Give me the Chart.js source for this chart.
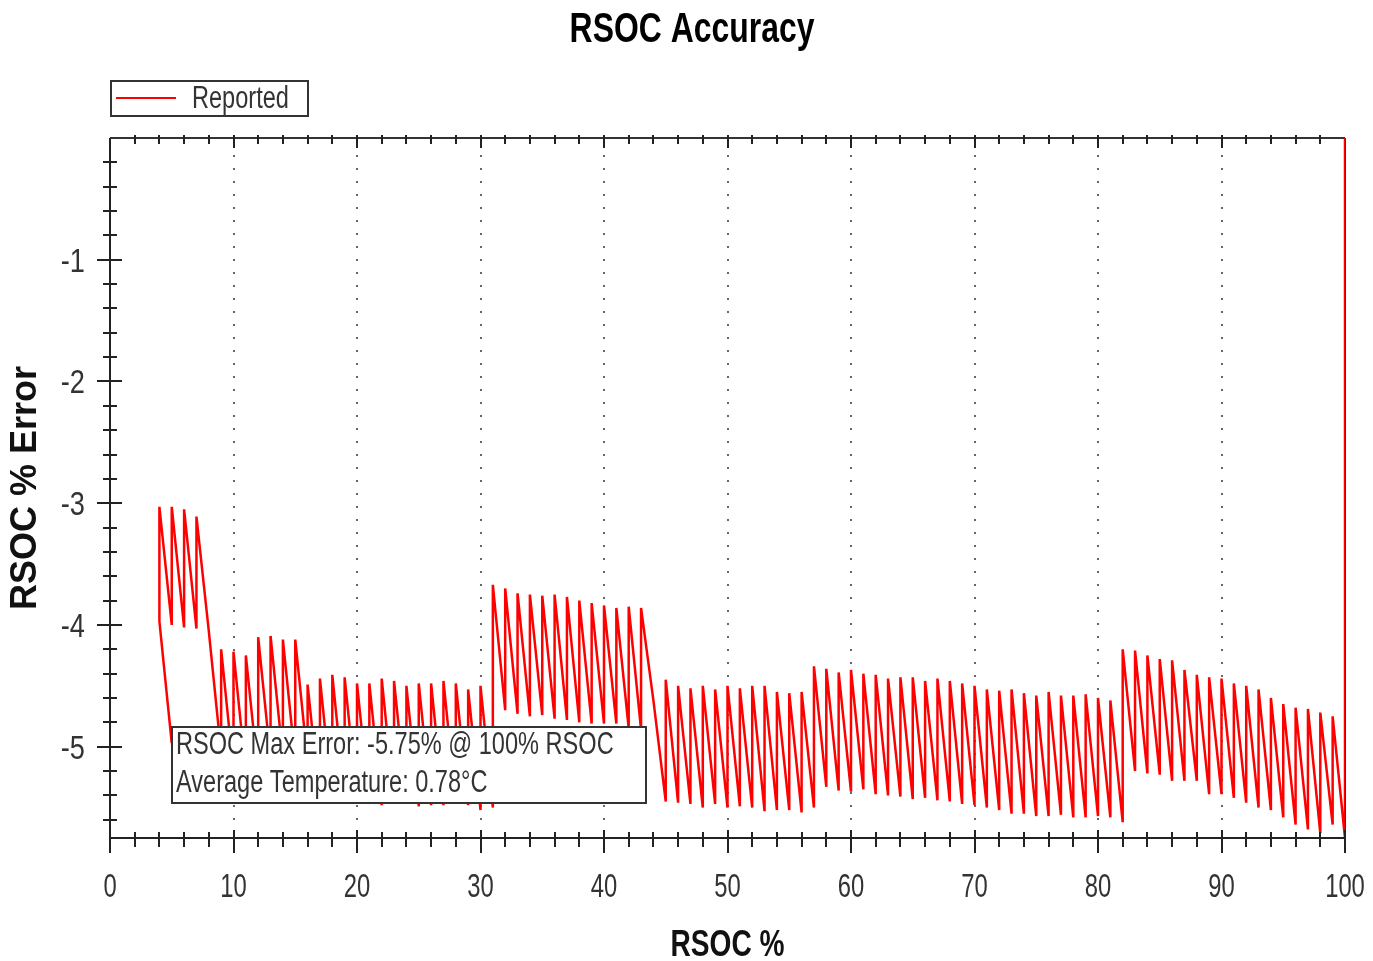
<!DOCTYPE html>
<html>
<head>
<meta charset="utf-8">
<title>RSOC Accuracy</title>
<script src="https://cdn.jsdelivr.net/npm/chart.js@4.4.1/dist/chart.umd.min.js"></script>
<style>
  html, body { margin: 0; padding: 0; background: #fff; }
  #chart { display: block; }
</style>
</head>
<body>
<canvas id="chart" width="1373" height="961"></canvas>
<script>
const FONT = "'Liberation Sans', Arial, sans-serif"
const SQUEEZE = 0.76   // the original uses a condensed face

// axis ticks
const xTicks = [0, 10, 20, 30, 40, 50, 60, 70, 80, 90, 100]
const xTickLabels = ['0', '10', '20', '30', '40', '50', '60', '70', '80', '90', '100']
const yTicks = [-5, -4, -3, -2, -1]
const yTickLabels = ['-5', '-4', '-3', '-2', '-1']

// RSOC % where reported value steps, error right after the step (top of each tooth)
const stepX = [
  4, 5, 6, 7, 8, 9, 10, 11, 12, 13, 14, 15, 16, 17, 18, 19, 20, 21, 22, 23,
  24, 25, 26, 27, 28, 29, 30, 31, 32, 33, 34, 35, 36, 37, 38, 39, 40, 41, 42, 43,
  44, 45, 46, 47, 48, 49, 50, 51, 52, 53, 54, 55, 56, 57, 58, 59, 60, 61, 62, 63,
  64, 65, 66, 67, 68, 69, 70, 71, 72, 73, 74, 75, 76, 77, 78, 79, 80, 81, 82, 83,
  84, 85, 86, 87, 88, 89, 90, 91, 92, 93, 94, 95, 96, 97, 98, 99, 100
]
const peakErr = [
  -3.03, -3.03, -3.05, -3.11, -4.05, -4.20, -4.22, -4.25, -4.10, -4.09, -4.12, -4.12, -4.49, -4.44, -4.41, -4.43, -4.48, -4.48, -4.44, -4.46,
  -4.50, -4.48, -4.48, -4.46, -4.48, -4.53, -4.50, -3.67, -3.70, -3.74, -3.75, -3.76, -3.75, -3.77, -3.80, -3.82, -3.84, -3.86, -3.85, -3.86,
  -4.62, -4.45, -4.50, -4.52, -4.50, -4.53, -4.50, -4.52, -4.50, -4.50, -4.55, -4.56, -4.55, -4.34, -4.36, -4.39, -4.37, -4.40, -4.41, -4.44,
  -4.43, -4.43, -4.46, -4.44, -4.46, -4.48, -4.50, -4.53, -4.54, -4.53, -4.56, -4.58, -4.55, -4.58, -4.58, -4.57, -4.60, -4.62, -4.20, -4.21,
  -4.25, -4.28, -4.29, -4.37, -4.41, -4.43, -4.44, -4.48, -4.50, -4.53, -4.60, -4.65, -4.68, -4.69, -4.72, -4.75, 0
]
// error reached just before the next step (bottom of each tooth)
const troughErr = [
  -4.00, -4.02, -4.03, -4.05, -5.05, -5.20, -5.22, -5.24, -5.10, -5.09, -5.12, -5.12, -5.46, -5.44, -5.42, -5.43, -5.47, -5.48, -5.45, -5.46,
  -5.49, -5.48, -5.48, -5.46, -5.48, -5.52, -5.50, -4.70, -4.73, -4.75, -4.74, -4.77, -4.78, -4.80, -4.81, -4.81, -4.81, -4.85, -4.86, -4.62,
  -5.45, -5.46, -5.47, -5.50, -5.47, -5.50, -5.49, -5.50, -5.53, -5.52, -5.52, -5.54, -5.50, -5.33, -5.36, -5.37, -5.35, -5.39, -5.40, -5.41,
  -5.43, -5.42, -5.44, -5.45, -5.47, -5.48, -5.50, -5.52, -5.55, -5.55, -5.57, -5.57, -5.56, -5.58, -5.58, -5.57, -5.58, -5.62, -5.20, -5.22,
  -5.23, -5.28, -5.28, -5.28, -5.39, -5.39, -5.42, -5.46, -5.50, -5.52, -5.58, -5.64, -5.68, -5.71, -5.64, -5.75
]
// end of discharge, drawn back from 5% to 4%
const tailX = [5, 4]
const tailErr = [-4.97, -3.97]

const maxError = -5.75
const maxErrorAt = 100
const avgTempC = 0.78

const points = tailX.map((x, i) => ({ x: x, y: tailErr[i] }))
stepX.forEach((x, i) => {
  points.push({ x: x, y: peakErr[i] })
  if (i < troughErr.length) points.push({ x: stepX[i + 1], y: troughErr[i] })
})

function seg(ctx, x1, y1, x2, y2) {
  ctx.beginPath()
  ctx.moveTo(x1, y1)
  ctx.lineTo(x2, y2)
  ctx.stroke()
}

// condensed text: squeeze horizontally around the anchor point
function text(ctx, str, x, y, font, align, sx) {
  ctx.save()
  ctx.translate(x, y)
  ctx.scale(sx || SQUEEZE, 1)
  ctx.font = font
  ctx.textAlign = align || 'left'
  ctx.textBaseline = 'alphabetic'
  ctx.fillText(str, 0, 0)
  ctx.restore()
}

const framePlugin = {
  id: 'frame',
  beforeDatasetsDraw(chart) {
    const { ctx, chartArea: a, scales: { x } } = chart
    ctx.save()
    // dotted vertical grid
    ctx.strokeStyle = '#666'
    ctx.lineWidth = 2
    ctx.setLineDash([2, 11])
    xTicks.forEach(v => {
      if (v <= 0 || v >= 100) return
      const px = Math.round(x.getPixelForValue(v))
      seg(ctx, px, a.top + 4, px, a.bottom)
    })
    ctx.setLineDash([])
    // top and right border
    ctx.strokeStyle = '#333'
    seg(ctx, a.left, a.top, a.right, a.top)
    seg(ctx, a.right, a.top, a.right, a.bottom)
    ctx.restore()
  },
  afterDatasetsDraw(chart) {
    const { ctx, chartArea: a, scales: { x, y } } = chart
    ctx.save()
    ctx.strokeStyle = '#222'
    ctx.lineWidth = 2
    seg(ctx, a.left, a.top, a.left, a.bottom + 1)
    seg(ctx, a.left - 1, a.bottom, a.right, a.bottom)
    // x ticks, every 2 %
    for (let v = 0; v <= 100; v += 2) {
      const px = Math.round(x.getPixelForValue(v))
      const major = v % 10 === 0
      seg(ctx, px, a.bottom - (major ? 8 : 6), px, a.bottom + (major ? 15 : 9))
      if (v > 0 && v < 100) seg(ctx, px, a.top - 3, px, a.top + (major ? 10 : 6))
    }
    // y ticks, every 0.2 %
    for (let k = 1; k <= 28; k++) {
      const py = Math.round(y.getPixelForValue(-k / 5))
      const major = k % 5 === 0
      seg(ctx, a.left - (major ? 13 : 7), py, a.left + (major ? 12 : 7), py)
    }

    // tick labels
    ctx.fillStyle = '#333'
    xTicks.forEach((v, i) => {
      text(ctx, xTickLabels[i], x.getPixelForValue(v), a.bottom + 59, '34px ' + FONT, 'center', 0.7)
    })
    yTicks.forEach((v, i) => {
      text(ctx, yTickLabels[i], a.left - 25, y.getPixelForValue(v) + 12, '34px ' + FONT, 'right', 0.8)
    })

    // note box
    const bx = a.left + 62, by = 727, bw = 474, bh = 76
    ctx.fillStyle = '#fff'
    ctx.fillRect(bx, by, bw, bh)
    ctx.strokeStyle = '#333'
    ctx.strokeRect(bx, by, bw, bh)
    ctx.fillStyle = '#333'
    text(ctx, 'RSOC Max Error: ' + maxError.toFixed(2) + '% @ ' + maxErrorAt + '% RSOC', bx + 4, by + 27, '31px ' + FONT)
    text(ctx, 'Average Temperature: ' + avgTempC.toFixed(2) + '\u00B0C', bx + 4, by + 65, '31px ' + FONT)
    ctx.restore()
  },
  afterDraw(chart) {
    const { ctx, chartArea: a } = chart
    const ds = chart.data.datasets[0]
    ctx.save()
    // title and x axis title
    ctx.fillStyle = '#000'
    text(ctx, 'RSOC Accuracy', 692, 42, 'bold 42px ' + FONT, 'center')
    ctx.fillStyle = '#111'
    text(ctx, 'RSOC %', (a.left + a.right) / 2, 956, 'bold 37px ' + FONT, 'center')
    // legend box
    ctx.strokeStyle = '#333'
    ctx.lineWidth = 2
    ctx.strokeRect(a.left + 1, 81, 197, 35)
    ctx.strokeStyle = ds.borderColor
    seg(ctx, a.left + 6, 98, a.left + 66, 98)
    ctx.fillStyle = '#333'
    text(ctx, ds.label, a.left + 82, 108, '31px ' + FONT)
    ctx.restore()
  }
}

new Chart(document.getElementById('chart'), {
  type: 'line',
  data: {
    datasets: [{
      label: 'Reported',
      data: points,
      borderColor: '#ff0000',
      borderWidth: 2.5,
      pointRadius: 0,
      tension: 0,
      fill: false
    }]
  },
  options: {
    responsive: false,
    animation: false,
    devicePixelRatio: 1,
    layout: { padding: { top: 138, right: 28, bottom: 0, left: 0 } },
    plugins: {
      legend: { display: false },
      tooltip: { enabled: false },
      title: { display: false }
    },
    scales: {
      x: {
        type: 'linear',
        min: 0,
        max: 100,
        grid: { display: false, drawTicks: false },
        border: { display: false },
        afterBuildTicks: s => { s.ticks = xTicks.map(v => ({ value: v })) },
        afterFit: s => { s.height = 123; s.paddingLeft = 0; s.paddingRight = 0 },
        ticks: { display: false }
      },
      y: {
        type: 'linear',
        min: -5.75,
        max: 0,
        grid: { display: false, drawTicks: false },
        border: { display: false },
        afterBuildTicks: s => { s.ticks = yTicks.map(v => ({ value: v })) },
        afterFit: s => { s.width = 110; s.paddingTop = 0; s.paddingBottom = 0 },
        ticks: { display: false },
        title: {
          display: true,
          text: 'RSOC % Error',
          color: '#111',
          font: { family: FONT, size: 36, weight: 'bold', lineHeight: 1.2 },
          padding: { top: 4, bottom: 0 }
        }
      }
    }
  },
  plugins: [framePlugin]
})
</script>
</body>
</html>
